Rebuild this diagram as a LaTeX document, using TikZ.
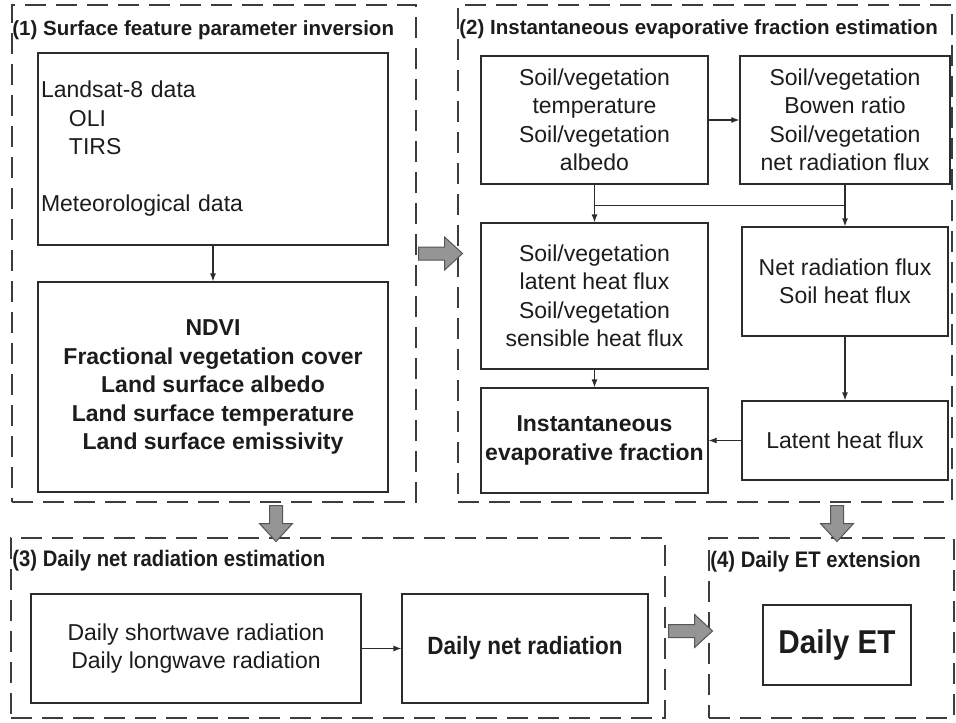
\documentclass[tikz,border=0pt]{standalone}
\usepackage{fontspec}
\setmainfont{Liberation Sans}
\newfontfamily\narrowfont[FakeStretch=0.9]{Liberation Sans}
\usepackage{tikz}
\usetikzlibrary{calc, positioning, shapes.arrows, arrows.meta}

\definecolor{framecol}{HTML}{3C3C3C}
\definecolor{boxcol}{HTML}{2C2C2C}
\definecolor{bigfill}{HTML}{959595}
\definecolor{bigedge}{HTML}{555555}
\definecolor{txtcol}{HTML}{1C1C1C}

\newcommand\bodyfont{\fontsize{23}{28.5}\selectfont}
\newcommand\titlefont{\fontsize{20.5}{24}\selectfont\bfseries}
\newcommand\narrowtitle{\narrowfont\fontsize{22.5}{26}\selectfont\bfseries}

\tikzset{
  stagebox/.style={draw=framecol, line width=1.6pt, dash pattern=on 21pt off 10pt,
    inner sep=0pt},
  stagetitle/.style={anchor=west, inner sep=1pt, font=\titlefont},
  databox/.style={draw=boxcol, line width=1.2pt, align=center, inner sep=2pt},
  flow/.style={->, draw=boxcol, line width=1.2pt},
  bigarrow/.style={single arrow, draw=bigedge, fill=bigfill, line width=1pt,
    inner sep=6pt, single arrow head extend=10pt,
    single arrow tip angle=85},
}

\begin{document}
\begin{tikzpicture}[x=1pt, y=-1pt, >={Latex[length=8pt,width=6pt]},
    font=\bodyfont, text=txtcol]
\useasboundingbox (0,0) rectangle (956,723);
%% stage frames
\node[stagebox, minimum width=404, minimum height=497] (f1) at (214,253.5) {};
\node[stagebox, minimum width=494, minimum height=497] (f2) at (705,253.5) {};
\node[stagebox, minimum width=654, minimum height=180] (f3) at (338,628) {};
\node[stagebox, minimum width=245, minimum height=180] (f4) at (831.5,628) {};
\node[stagetitle] (t1) at ($(f1.north west)+(0,26)$) {(1) Surface feature parameter inversion};
\node[stagetitle] (t2) at ($(f2.north west)+(1,25)$) {(2) Instantaneous evaporative fraction estimation};
\node[stagetitle, font=\narrowtitle] (t3) at ($(f3.north west)+(1,23)$) {(3) Daily net radiation estimation};
\node[stagetitle, font=\narrowtitle] (t4) at ($(f4.north west)+(1,24)$) {(4) Daily ET extension};
%% (1) surface parameters
\node[databox, align=left, text width=344, minimum width=350, minimum height=192,
  inner xsep=3pt] (landsat) at (213,149)
  {Landsat-8 data\\\hspace*{28pt}OLI\\\hspace*{28pt}TIRS\\\mbox{}\\Meteorological data};
\node[databox, font=\bodyfont\bfseries, minimum width=350, minimum height=210] (params) at (213,387)
  {NDVI\\Fractional vegetation cover\\Land surface albedo\\Land surface temperature\\Land surface emissivity};
%% (2) evaporative fraction
\node[databox, minimum width=227, minimum height=128] (svtemp) at (594.5,120)
  {Soil/vegetation\\temperature\\Soil/vegetation\\albedo};
\node[databox, minimum width=210, minimum height=128] (bowen) at (845,120)
  {Soil/vegetation\\Bowen ratio\\Soil/vegetation\\net radiation flux};
\node[databox, minimum width=227, minimum height=146] (svflux) at (594.5,296)
  {Soil/vegetation\\latent heat flux\\Soil/vegetation\\sensible heat flux};
\node[databox, minimum width=206, minimum height=109] (netrad) at (845,281.5)
  {Net radiation flux\\Soil heat flux};
\node[databox, font=\bodyfont\bfseries, minimum width=227, minimum height=105] (evapfrac) at (594.5,440.5)
  {Instantaneous\\evaporative fraction};
\node[databox, minimum width=206, minimum height=79] (latent) at (845,440.5)
  {Latent heat flux};
%% (3) daily net radiation
\node[databox, minimum width=330, minimum height=109] (waves) at (196,648.5)
  {Daily shortwave radiation\\Daily longwave radiation};
\node[databox, font=\narrowfont\fontsize{25}{30}\selectfont\bfseries,
  minimum width=246, minimum height=109] (dailyrn) at (525,648.5) {Daily net radiation};
%% (4) daily ET
\node[databox, font=\narrowfont\fontsize{33}{38}\selectfont\bfseries,
  minimum width=148, minimum height=80] (dailyet) at (837,645) {Daily ET};
%% small connectors
\draw[flow] (landsat) -- (params);
\draw[flow] (svtemp) -- (bowen);
\coordinate (split) at ($(svtemp.south)!.56!(svflux.north)$);
\draw[flow] (svtemp) -- (svflux);
\draw[flow] (bowen) -- (netrad);
\draw[draw=boxcol, line width=1.2pt] (split) -- (split -| bowen.south);
\draw[flow] (svflux) -- (evapfrac);
\draw[flow] (netrad) -- (latent);
\draw[flow] (latent) -- (evapfrac);
\draw[flow] (waves) -- (dailyrn);
%% big arrows between stages
\node[bigarrow, minimum height=44pt] (a12) at ($(f1.east)!.5!(f2.west)$) {};
\node[bigarrow, minimum height=36pt, shape border rotate=270] (a13)
  at ($(f1.south)!.5!(f3.north)$) {};
\node[bigarrow, minimum height=36pt, shape border rotate=270] (a24)
  at ($(f2.south -| dailyet)!.5!(f4.north -| dailyet)$) {};
\node[bigarrow, minimum height=44pt] (a34) at ($(f3.east)!.5!(f4.west)+(0,3)$) {};
\end{tikzpicture}
\end{document}
